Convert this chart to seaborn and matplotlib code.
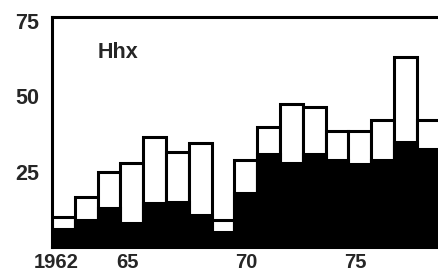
import numpy as np
import matplotlib
matplotlib.use("Agg")
import matplotlib.pyplot as plt
import seaborn as sns

# data
years = [1962, 1963, 1964, 1965, 1966, 1967, 1968, 1969, 1970,
         1971, 1972, 1973, 1974, 1975, 1976, 1977, 1978]
total = [10, 16.5, 25, 28, 36.5, 31.5, 34.5, 9, 29,
         40, 47.5, 46.5, 38.5, 38.5, 42, 63, 42]
black = [6, 9, 13, 8, 14.5, 15, 10.5, 5, 18,
         31, 28, 31, 29, 27.5, 29, 35, 32.5]
xtick_labels = ["1962", "65", "70", "75"]
ytick_values = [25, 50, 75]

sns.set_style("white")
plt.rcParams["font.family"] = ["Liberation Sans", "DejaVu Sans"]

fig = plt.figure(figsize=(4.38, 2.76), dpi=100)
ax = fig.add_axes([0.119, 0.105, 0.881, 0.835])

# white upper part, full height
sns.barplot(x=years, y=total, native_scale=True, width=1, color="white",
            saturation=1, edgecolor="black", linewidth=2.2, errorbar=None, ax=ax)
# black lower part
sns.barplot(x=years, y=black, native_scale=True, width=1, color="black",
            saturation=1, edgecolor="black", linewidth=2.2, errorbar=None, ax=ax)

ax.set_xlim(1961.5, 1978.43)
ax.set_ylim(0, 76.5)

# tick labels, no tick marks
ax.set_xticks([1962.65, 1964.8, 1970.0, 1974.8])
ax.set_xticklabels(xtick_labels, fontsize=14.5, fontweight="bold")
ax.get_xticklabels()[0].set_horizontalalignment("right")
ax.set_yticks(ytick_values)
ax.set_yticklabels([str(v) for v in ytick_values], fontsize=15.5, fontweight="bold")
ax.tick_params(axis="both", length=0)
ax.tick_params(axis="x", pad=4.5)
ax.tick_params(axis="y", pad=9)

for side in ["left", "top", "bottom"]:
    ax.spines[side].set_linewidth(2.2)
    ax.spines[side].set_color("black")
ax.spines["right"].set_visible(False)

ax.text(1963.5, 68, "Hhx", fontsize=15.5, fontweight="bold", va="top", ha="left")
ax.set_xlabel("")
ax.set_ylabel("")

fig.savefig("out.png", dpi=100)
plt.close()
